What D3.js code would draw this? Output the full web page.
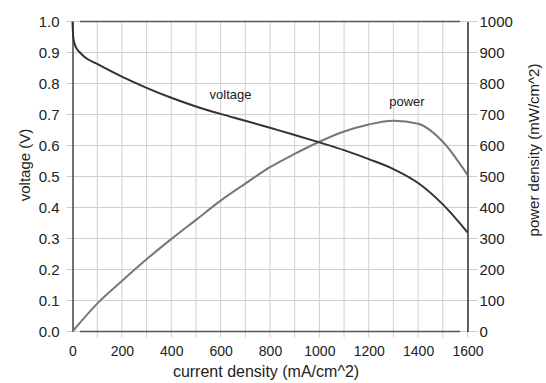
<!DOCTYPE html>
<meta charset="utf-8">
<style>
  body { margin: 0; background: #fff; }
  svg { font-family: "Liberation Sans", Arial, sans-serif; }
  .grid line { stroke: #cfcfcf; stroke-width: 1; }
  .tick text { fill: #222; }
</style>
<body>
<script src="https://cdn.jsdelivr.net/npm/d3@7"></script>
<script>

// current density (mA/cm^2) sample points
var current = [0, 3, 8, 15, 30, 50, 100, 200, 300, 400, 500, 600, 700, 800, 900, 1000, 1100, 1200, 1300, 1400, 1500, 1600];
// voltage (V)
var voltage = [1.0, 0.95, 0.93, 0.915, 0.9, 0.885, 0.863, 0.822, 0.786, 0.754, 0.726, 0.702, 0.68, 0.657, 0.634, 0.61, 0.585, 0.556, 0.524, 0.479, 0.41, 0.32];

// power density (mW/cm^2)
var powerCurrent = [0, 100, 200, 300, 400, 500, 600, 700, 800, 900, 1000, 1100, 1200, 1300, 1400, 1500, 1600];
var power = [0, 90, 163, 233, 298, 360, 422, 477, 530, 573, 612, 645, 668, 680, 670, 612, 505];

var xTicks = [0, 200, 400, 600, 800, 1000, 1200, 1400, 1600];
var vTicks = [0, 0.1, 0.2, 0.3, 0.4, 0.5, 0.6, 0.7, 0.8, 0.9, 1.0];
var pTicks = [0, 100, 200, 300, 400, 500, 600, 700, 800, 900, 1000];

var width = 546, height = 383;
var margin = {left: 72.5, right: 78.5, top: 21.5, bottom: 51.5};

var svg = d3.select("body").append("svg")
    .attr("width", width)
    .attr("height", height);

var x = d3.scaleLinear().domain([0, 1600]).range([margin.left, width - margin.right]);
var yV = d3.scaleLinear().domain([0, 1]).range([height - margin.bottom, margin.top]);
var yP = d3.scaleLinear().domain([0, 1000]).range([height - margin.bottom, margin.top]);

// grid
var grid = svg.append("g").attr("class", "grid");
grid.selectAll("line.v")
    .data(d3.range(100, 1601, 100))
    .enter().append("line")
    .attr("x1", d => x(d)).attr("x2", d => x(d))
    .attr("y1", yV(1)).attr("y2", yV(0) + 6);
grid.selectAll("line.h")
    .data(vTicks)
    .enter().append("line")
    .attr("x1", x(0) - 6).attr("x2", x(1600) + 10)
    .attr("y1", d => yV(d)).attr("y2", d => yV(d));

// top and bottom frame lines (stop short of the axes)
svg.selectAll("line.frame")
    .data([0, 1])
    .enter().append("line")
    .attr("x1", x(30)).attr("x2", x(1570))
    .attr("y1", d => yV(d)).attr("y2", d => yV(d))
    .attr("stroke", "#555").attr("stroke-width", 1.5);

// axes
var axLeft = svg.append("g")
    .attr("transform", "translate(" + x(0) + ",0)")
    .call(d3.axisLeft(yV).tickValues(vTicks).tickFormat(d3.format(".1f")).tickSize(0).tickPadding(13));
axLeft.select(".domain").attr("stroke", "#444").attr("stroke-width", 1.5);
axLeft.selectAll("text").style("font-size", "15px");

var axRight = svg.append("g")
    .attr("transform", "translate(" + x(1600) + ",0)")
    .call(d3.axisRight(yP).tickValues(pTicks).tickFormat(d3.format("d")).tickSize(0).tickPadding(12));
axRight.select(".domain").attr("stroke", "#333").attr("stroke-width", 1.5);
axRight.selectAll("text").style("font-size", "15px");

var axBottom = svg.append("g")
    .attr("transform", "translate(0," + yV(0) + ")")
    .call(d3.axisBottom(x).tickValues(xTicks).tickFormat(d3.format("d")).tickSize(0).tickPadding(15));
axBottom.select(".domain").remove();
axBottom.selectAll("text").style("font-size", "14px");

// curves
var vLine = d3.line()
    .curve(d3.curveMonotoneX)
    .x((d, i) => x(current[i]))
    .y(d => yV(d));
var pLine = d3.line()
    .curve(d3.curveMonotoneX)
    .x((d, i) => x(powerCurrent[i]))
    .y(d => yP(d));

svg.append("path")
    .attr("d", pLine(power))
    .attr("fill", "none").attr("stroke", "#777").attr("stroke-width", 2);
svg.append("path")
    .attr("d", vLine(voltage))
    .attr("fill", "none").attr("stroke", "#333").attr("stroke-width", 2);

// curve labels
svg.append("text").attr("x", x(555)).attr("y", yV(0.75)).text("voltage")
    .style("font-size", "13px").attr("fill", "#222");
svg.append("text").attr("x", x(1283)).attr("y", yV(0.728)).text("power")
    .style("font-size", "13px").attr("fill", "#222");

// axis titles
svg.append("text")
    .attr("x", 266).attr("y", 377)
    .attr("text-anchor", "middle")
    .style("font-size", "16px").attr("fill", "#222")
    .text("current density (mA/cm^2)");
svg.append("text")
    .attr("transform", "translate(30,165) rotate(-90)")
    .attr("text-anchor", "middle")
    .style("font-size", "15px").attr("fill", "#222")
    .text("voltage (V)");
svg.append("text")
    .attr("transform", "translate(539,150) rotate(-90)")
    .attr("text-anchor", "middle")
    .style("font-size", "15px").attr("fill", "#222")
    .text("power density (mW/cm^2)");

</script>
</body>
